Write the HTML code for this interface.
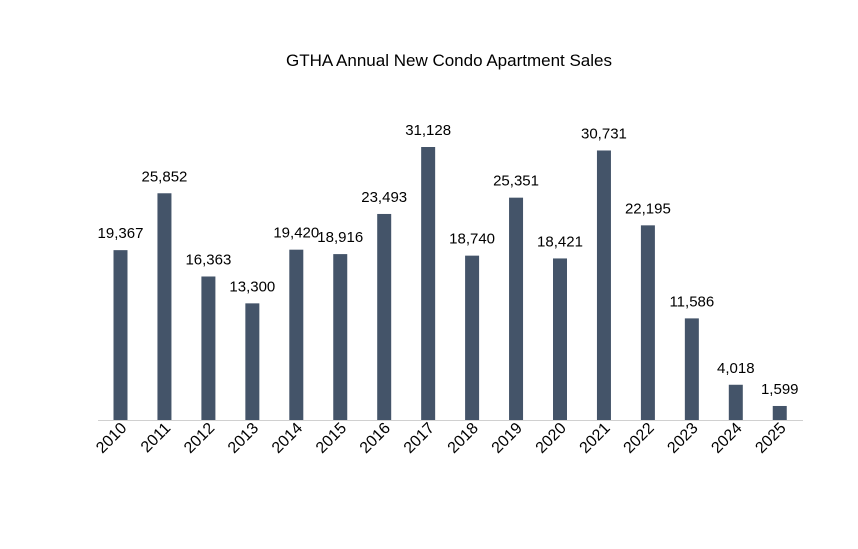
<!DOCTYPE html>
<html><head><meta charset="utf-8"><style>
body{margin:0;background:#fff;}
svg text{font-family:"Liberation Sans",Arial,sans-serif;fill:#000;}
</style></head><body>
<svg id="chart" width="858" height="544">
<text x="449" y="66" text-anchor="middle" font-size="17">GTHA Annual New Condo Apartment Sales</text>
<line x1="98" y1="420.5" x2="803" y2="420.5" stroke="#d0d0d0" stroke-width="1"/>
<g id="bars"></g>
</svg>
<script>
const years=["2010","2011","2012","2013","2014","2015","2016","2017","2018","2019","2020","2021","2022","2023","2024","2025"];
const sales=[19367,25852,16363,13300,19420,18916,23493,31128,18740,25351,18421,30731,22195,11586,4018,1599];
const ns="http://www.w3.org/2000/svg";
const g=document.getElementById('bars');
const x0=120.5,step=43.95,base=420,k=273/31128,bw=14;
function xs(i){return x0+i*step;}
function ys(v){return base-v*k;}
sales.forEach((v,i)=>{
  const r=document.createElementNS(ns,'rect');
  r.setAttribute('x',xs(i)-bw/2);r.setAttribute('y',ys(v));
  r.setAttribute('width',bw);r.setAttribute('height',base-ys(v));
  r.setAttribute('fill','#445469');
  
  
  g.appendChild(r);
  const t=document.createElementNS(ns,'text');
  t.setAttribute('x',xs(i));t.setAttribute('y',ys(v)-12);
  t.setAttribute('text-anchor','middle');t.setAttribute('font-size','15');
  t.textContent=v.toLocaleString('en-US');
  
  
  g.appendChild(t);
  const l=document.createElementNS(ns,'text');
  const lx=xs(i)+7,ly=429;
  l.setAttribute('x',lx);l.setAttribute('y',ly);
  l.setAttribute('text-anchor','end');l.setAttribute('font-size','16');
  l.setAttribute('transform','rotate(-45 '+lx+' '+ly+')');
  l.textContent=years[i];
  
  
  g.appendChild(l);
});
</script>
</body></html>
